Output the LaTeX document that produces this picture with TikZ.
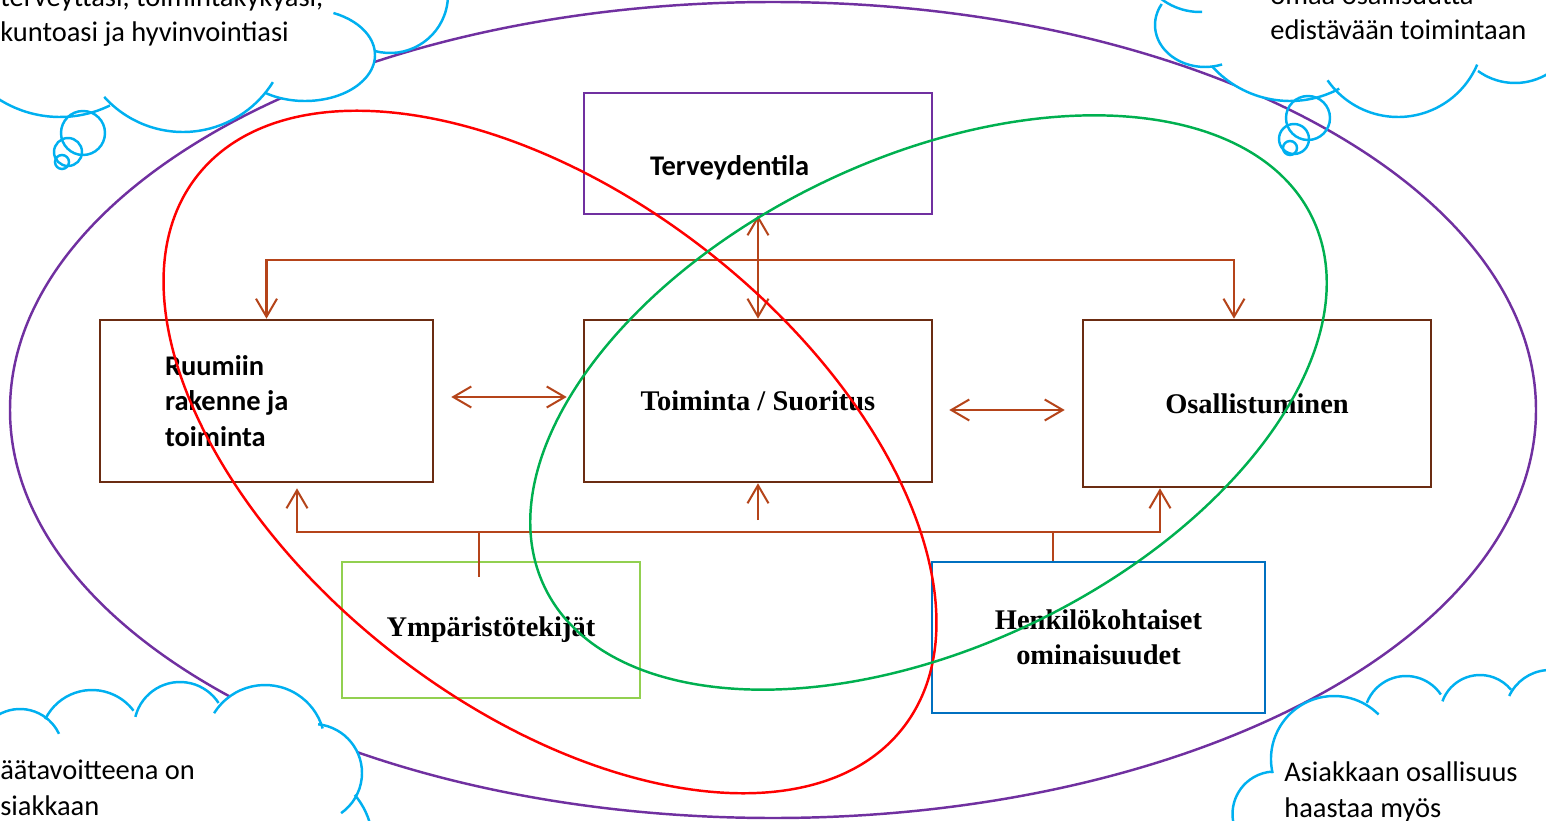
\documentclass[tikz,border=0pt]{standalone}
\usepackage{fontspec}
\setmainfont{Carlito}
\newfontfamily\labelserif{Liberation Serif}
\usetikzlibrary{arrows.meta}
\definecolor{outer}{HTML}{7030A0}
\definecolor{bodyring}{HTML}{FF0000}
\definecolor{partring}{HTML}{00B050}
\definecolor{boxline}{HTML}{6B2C12}
\definecolor{linkline}{HTML}{B5441A}
\definecolor{envline}{HTML}{92D050}
\definecolor{persline}{HTML}{0070C0}
\definecolor{cloudline}{HTML}{00B0F0}
\tikzset{
  box/.style={draw=boxline,line width=1.5pt,inner sep=0pt,
    font=\fontsize{16.2}{20}\selectfont\labelserif\bfseries},
  sanslabel/.style={font=\fontsize{16.2}{20}\selectfont\bfseries},
  link/.style={draw=linkline,line width=1.15pt},
  twoway/.style={link,{Straight Barb[length=3.6mm,width=4.2mm]}-{Straight Barb[length=3.6mm,width=4.2mm]}},
  oneway/.style={link,-{Straight Barb[length=3.6mm,width=4.2mm]}},
  stub/.style={draw=linkline,line width=0.75pt},
  ring/.style={line width=1.4pt},
  puff/.style={draw=cloudline,line width=1.4pt},
  cloudtext/.style={anchor=base west,align=flush left,inner sep=0pt,
    font=\fontsize{16.2}{20}\selectfont},
}

\begin{document}
\begin{tikzpicture}[x=0.02cm,y=-0.02cm]
  \path[use as bounding box,clip] (0,0) rectangle (1546,821);

  % outer ring round the whole model
  \draw[ring,draw=outer] (773,410) ellipse [x radius=763,y radius=408];

  % ICF components
  \node[box,sanslabel,draw=outer,minimum width=6.96cm,minimum height=2.42cm,
        text width=4.32cm,align=flush left,text height=1.66cm,text depth=0.76cm]
    (terv) at (758,153.5) {Terveydentila};
  \node[box,sanslabel,minimum width=6.66cm,minimum height=3.24cm,
        text width=4.06cm,align=flush left]
    (ruum) at (266.5,401) {Ruumiin\\rakenne ja\\toiminta};
  \node[box,minimum width=6.96cm,minimum height=3.24cm]
    (toim) at (758,401) {Toiminta / Suoritus};
  \node[box,minimum width=6.96cm,minimum height=3.34cm]
    (osal) at (1257,403.5) {Osallistuminen};
  \node[box,draw=envline,minimum width=5.96cm,minimum height=2.72cm]
    (ymp) at (491,630) {Ympäristötekijät};
  \node[box,draw=persline,minimum width=6.66cm,minimum height=3.02cm,align=center]
    (henk) at (1098.5,637.5) {Henkilökohtaiset\\ominaisuudet};

  % interaction arrows
  \coordinate (topbus) at (1234,260);
  \coordinate (lowbus-l) at (297,532);
  \coordinate (lowbus-r) at (1160,532);
  \coordinate (lowbus-m) at (758,520);
  \coordinate (ympjoin) at (479,532);
  \coordinate (henkjoin) at (1053,532);

  \draw[twoway] (terv.south) -- (toim.north);
  \draw[twoway] (ruum.north) |- (topbus) -- (topbus |- osal.north);
  \draw[twoway,shorten <=0.34cm,shorten >=0.32cm]
    ([yshift=0.08cm]ruum.east) -- ([yshift=0.08cm]ruum.east -| toim.west);
  \draw[twoway,shorten <=0.32cm,shorten >=0.34cm]
    ([yshift=-0.18cm]toim.east) -- ([yshift=-0.18cm]toim.east -| osal.west);
  \draw[twoway,shorten <=0.1cm]
    (lowbus-l |- ruum.south) -- (lowbus-l) -- (lowbus-r) -- (lowbus-r |- osal.south);
  \draw[oneway] (lowbus-m) -- (toim.south);
  \draw[stub] (ympjoin) -- ++(0,45);
  \draw[stub] (henkjoin) -- (henkjoin |- henk.north);

  % the two overlapping rings
  \draw[ring,draw=bodyring,rotate around={-38:(550,452)}]
    (550,452) ellipse [x radius=448,y radius=255];
  \draw[ring,draw=partring,rotate around={25.7:(928.5,402.5)}]
    (928.5,402.5) ellipse [x radius=426,y radius=244];

  % thought clouds, mostly outside the page
  \fill[white] (-10,-10) -- (-10,95) -- (104,97) -- (266,92) -- (376,55) -- (450,-10) -- cycle;
  \fill[white] (1150,-10) -- (1160,20) -- (1212,66) -- (1339,88) -- (1478,71) -- (1556,45) -- (1556,-10) -- cycle;
  \fill[white] (-10,740) -- (45,719) -- (135,717) -- (214,713) -- (318,724) -- (362,773) -- (355,795) -- (380,830) -- (-10,830) -- cycle;
  \fill[white] (1240,830) -- (1272,773) -- (1378,714) -- (1442,701) -- (1510,696) -- (1556,690) -- (1556,830) -- cycle;
  \foreach \cx/\cy/\rx/\ry/\a/\b in {
      60/3/114/114/130/64, 183/26/106/106/138/32, 305/55/70/46/124/-66, 390/-5/58/58/105/-20,
      1200/-52/64/64/145/88, 1205/25/50/42/210/70, 1290/-4/105/105/138/62,
      1398/31/86/86/145/23, 1515/20/63/63/126/20,
      20/752/43/43/200/335, 92/742/52/52/206/323, 180/728/46/46/194/327,
      265/745/60/60/212/344, 313/773/49/49/-84/55, 295/845/78/78/-40/20,
      1275/814/42.5/42.5/150/266, 1334/759/63/63/167/315, 1406/718/42/42/201/326,
      1480/715/40/40/200/321, 1550/715/45/45/205/300} {
    \fill[white] (\cx,\cy) ellipse [x radius=\rx,y radius=\ry];
  }
  \foreach \cx/\cy/\rx/\ry/\a/\b in {
      60/3/114/114/130/64, 183/26/106/106/138/32, 305/55/70/46/124/-66, 390/-5/58/58/105/-20,
      1200/-52/64/64/145/88, 1205/25/50/42/210/70, 1290/-4/105/105/138/62,
      1398/31/86/86/145/23, 1515/20/63/63/126/20,
      20/752/43/43/200/335, 92/742/52/52/206/323, 180/728/46/46/194/327,
      265/745/60/60/212/344, 313/773/49/49/-84/55, 295/845/78/78/-40/20,
      1275/814/42.5/42.5/150/266, 1334/759/63/63/167/315, 1406/718/42/42/201/326,
      1480/715/40/40/200/321, 1550/715/45/45/205/300} {
    \draw[puff] (\cx,\cy) ++({\rx*cos(\a)},{\ry*sin(\a)})
      arc [start angle=\a,end angle=\b,x radius=\rx,y radius=\ry];
  }
  \foreach \cx/\cy/\r in {83/133/22, 68/152/14, 62/162/7,
                          1308/118/22, 1294/139/15, 1290/148/7}
    \draw[puff] (\cx,\cy) circle [radius=\r];

  % the base anchor sits on the last line of each text
  \node[cloudtext] (tl-text) at (0,42) {terveyttäsi, toimintakykyäsi,\\kuntoasi ja hyvinvointiasi};
  \node[cloudtext] (tr-text) at (1270,40) {omaa osallisuutta\\edistävään toimintaan};
  \node[cloudtext] (bl-text) at (0,815) {äätavoitteena on\\siakkaan};
  \node[cloudtext] (br-text) at (1284,817) {Asiakkaan osallisuus\\haastaa myös};
\end{tikzpicture}
\end{document}
